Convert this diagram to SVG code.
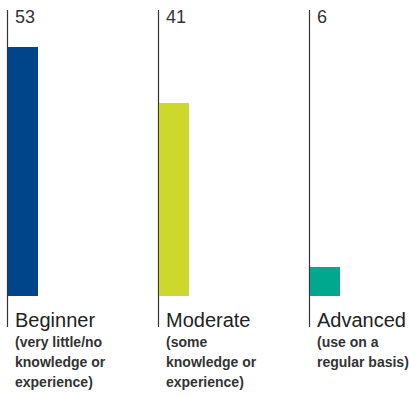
<svg xmlns="http://www.w3.org/2000/svg" width="409" height="396" viewBox="0 0 409 396">
<style>
.axis{stroke:#333;stroke-width:1.2}
.num{font-family:"Liberation Sans",Arial,sans-serif;font-size:18px;fill:#333}
.title{font-family:"Liberation Sans",Arial,sans-serif;font-size:20px;fill:#222}
.sub{font-family:"Liberation Sans",Arial,sans-serif;font-size:14px;font-weight:bold;fill:#333}
</style>
<rect width="409" height="396" fill="#fff"/>
<g id="connectors">
<line class="axis" x1="7.5" y1="10" x2="7.5" y2="327"/>
<line class="axis" x1="158.5" y1="10" x2="158.5" y2="327"/>
<line class="axis" x1="309.5" y1="10" x2="309.5" y2="327"/>
</g>
<g id="beginner">
<rect x="8" y="47" width="30" height="249" fill="#00458a"/>
<text class="num" x="15" y="23">53</text>
<text class="title" x="15" y="327">Beginner</text>
<text class="sub" x="15" y="347">(very little/no</text>
<text class="sub" x="15" y="367">knowledge or</text>
<text class="sub" x="15" y="387">experience)</text>
</g>
<g id="moderate">
<rect x="159" y="103" width="30" height="193" fill="#ccd82b"/>
<text class="num" x="166" y="23">41</text>
<text class="title" x="166" y="327">Moderate</text>
<text class="sub" x="166" y="347">(some</text>
<text class="sub" x="166" y="367">knowledge or</text>
<text class="sub" x="166" y="387">experience)</text>
</g>
<g id="advanced">
<rect x="310" y="267" width="30" height="29" fill="#00a88e"/>
<text class="num" x="317" y="23">6</text>
<text class="title" x="317" y="327">Advanced</text>
<text class="sub" x="317" y="347">(use on a</text>
<text class="sub" x="317" y="367">regular basis)</text>
</g>
</svg>
